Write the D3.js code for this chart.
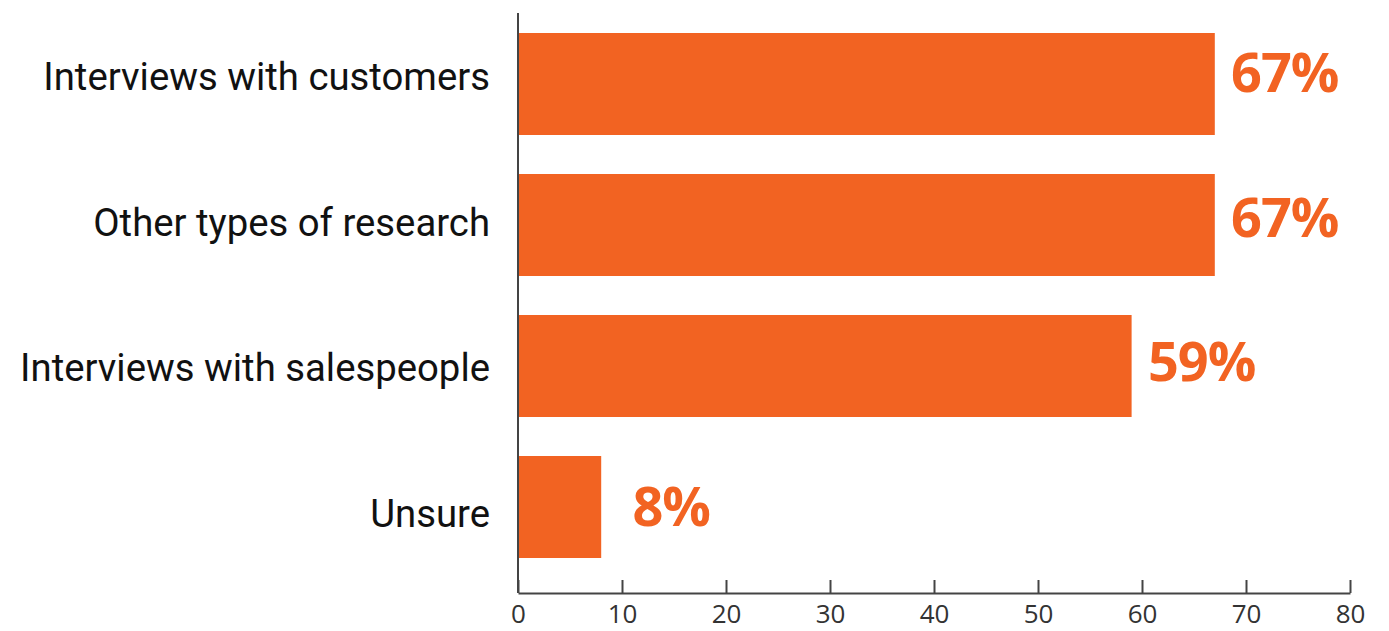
<!DOCTYPE html>
<html><head><meta charset="utf-8">
<script src="https://cdn.jsdelivr.net/npm/d3@7"></script>
<style>body{margin:0;background:#fff}</style>
</head><body>
<svg id="c" width="1389" height="631"></svg>
<script>
const categories = ["Interviews with customers","Other types of research","Interviews with salespeople","Unsure"];
const values = [67, 67, 59, 8];
const tickValues = [0,10,20,30,40,50,60,70,80];

(function(){
const svg = d3.select("#c");
const mLeft = 518, mRight = 1350, mTop = 13, axisY = 593;
const x = d3.scaleLinear().domain([0,80]).range([mLeft,mRight]);
const y = d3.scaleBand().domain(categories).range([mTop, 578]).paddingInner(39/141).paddingOuter(20/141);
const yCat = d3.scalePoint().domain(categories).range([90, 526.7]);
const yVal = d3.scalePoint().domain(categories).range([92, 526]);
const orange = "#F26322";

svg.selectAll("rect.bar").data(categories).join("rect")
  .attr("x", x(0)).attr("y", d=>y(d))
  .attr("width", (d,i)=>x(values[i])-x(0)).attr("height", y.bandwidth())
  .attr("fill", orange);

svg.selectAll("text.val").data(categories).join("text")
  .attr("x", (d,i)=>x(values[i])+70).attr("y", d=>yVal(d))
  .attr("text-anchor","middle")
  .attr("font-family","Open Sans").attr("font-weight","bold").attr("font-size",54)
  .attr("letter-spacing","-1")
  .attr("fill", orange)
  .text((d,i)=>values[i]+"%");

svg.selectAll("text.cat").data(categories).join("text")
  .attr("x", 490).attr("y", d=>yCat(d))
  .attr("text-anchor","end")
  .attr("font-family","Roboto").attr("font-size",38.3).attr("fill","#111")
  .text(d=>d);

const xa = svg.append("g").attr("transform",`translate(0,${axisY})`)
  .call(d3.axisBottom(x).tickValues(tickValues).tickSize(-13).tickSizeOuter(0));
xa.select(".domain").attr("stroke","#444").attr("stroke-width",2);
xa.selectAll(".tick line").attr("stroke","#444").attr("stroke-width",2);
xa.selectAll(".tick text").attr("font-family","Open Sans").attr("font-size",26).attr("fill","#333")
  .attr("y",30).attr("dy",0);

svg.append("line").attr("x1",mLeft).attr("x2",mLeft).attr("y1",mTop).attr("y2",axisY)
  .attr("stroke","#444").attr("stroke-width",2);
})();
</script>
</body></html>
